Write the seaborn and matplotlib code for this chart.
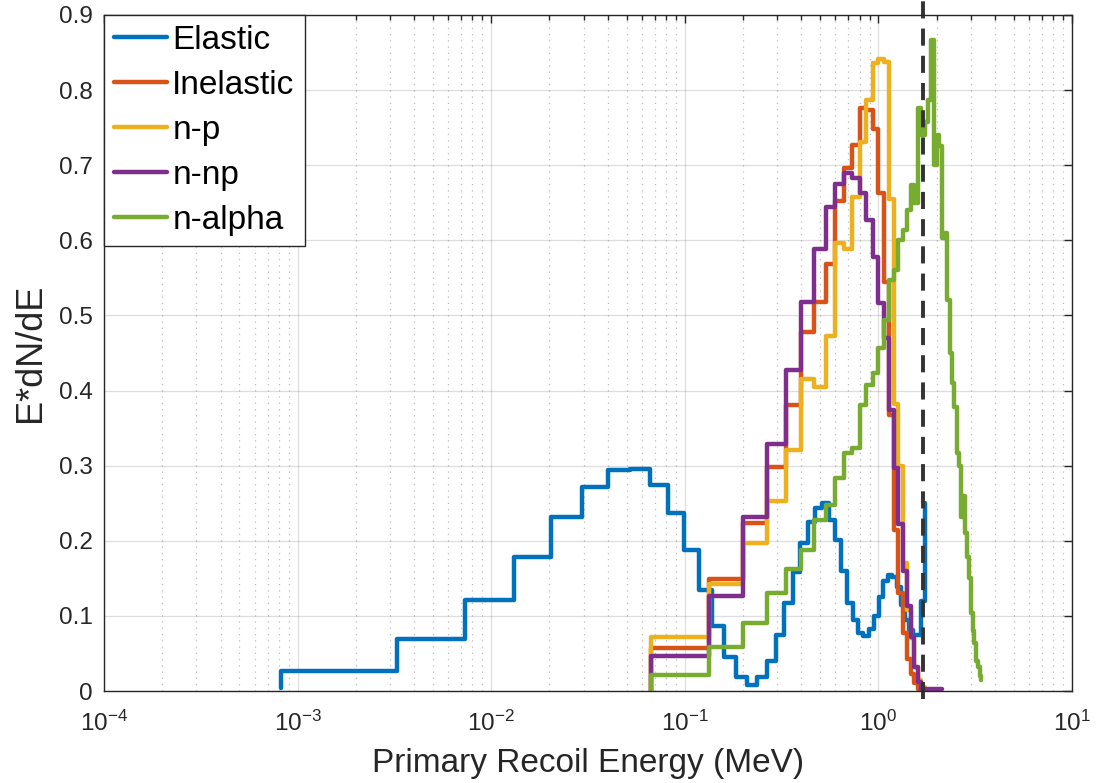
import matplotlib
matplotlib.use("Agg")
import matplotlib.pyplot as plt
from matplotlib.ticker import LogLocator, FixedLocator, FuncFormatter, NullFormatter
import seaborn as sns

# ─── Data ────────────────────────────────────────────────────────────────────
# Elastic histogram: bin edges (MeV) and the value that starts at each edge;
# the last value is only the end point of the stairs.
ELASTIC_E = [0.000818, 0.003272, 0.007362, 0.01309, 0.02045, 0.02945, 0.04008,
             0.05235, 0.06626, 0.08180, 0.09897, 0.1178, 0.1382, 0.1603,
             0.1840, 0.2094, 0.2364, 0.2650, 0.2953, 0.3272, 0.3607, 0.3959,
             0.4327, 0.4711, 0.5112, 0.5529, 0.5963, 0.6413, 0.6879, 0.7362,
             0.7861, 0.8376, 0.8908, 0.9456, 1.0020, 1.0601, 1.1198, 1.1811,
             1.2441, 1.3087, 1.3750, 1.4429, 1.5124, 1.5836, 1.6564, 1.7308]
ELASTIC_V = [0.027, 0.069, 0.121, 0.179, 0.232, 0.272, 0.294, 0.295, 0.274, 0.237,
             0.188, 0.134, 0.086, 0.045, 0.018, 0.008, 0.018, 0.040, 0.075, 0.117,
             0.158, 0.197, 0.225, 0.243, 0.250, 0.228, 0.201, 0.160, 0.117, 0.095,
             0.077, 0.073, 0.083, 0.100, 0.125, 0.146, 0.155, 0.152, 0.138, 0.115,
             0.095, 0.081, 0.075, 0.075, 0.120, 0.250]

# the reaction channels share the same bin edges (MeV)
BIN_E = [0.0667, 0.1333, 0.2000, 0.2667, 0.3333, 0.4000, 0.4667, 0.5333, 0.6000,
         0.6667, 0.7333, 0.8000, 0.8667, 0.9333, 1.0000, 1.0667, 1.1333, 1.2000,
         1.2667, 1.3333, 1.4000, 1.4667, 1.5333, 1.6000, 1.6667, 1.7333, 1.8000,
         1.8667, 1.9333, 2.0000, 2.0667, 2.1333, 2.2000, 2.2667, 2.3333, 2.4000,
         2.4667, 2.5333, 2.6000, 2.6667, 2.7333, 2.8000, 2.8667, 2.9333, 3.0000,
         3.0667, 3.1333, 3.2000, 3.2667, 3.3333, 3.4000]
INELASTIC_V = [0.057, 0.149, 0.224, 0.298, 0.381, 0.478, 0.518, 0.569, 0.652, 0.696,
               0.727, 0.776, 0.774, 0.748, 0.663, 0.545, 0.367, 0.214, 0.130, 0.077,
               0.043, 0.022, 0.010, 0.003, 0.0]
NP_V = [0.072, 0.142, 0.197, 0.253, 0.321, 0.416, 0.405, 0.473, 0.596, 0.589,
        0.658, 0.731, 0.787, 0.836, 0.841, 0.837, 0.655, 0.382, 0.299, 0.170,
        0.108, 0.070, 0.032, 0.015, 0.005, 0.0]
NNP_V = [0.047, 0.126, 0.231, 0.329, 0.427, 0.518, 0.589, 0.644, 0.675, 0.689,
         0.683, 0.663, 0.627, 0.578, 0.517, 0.470, 0.374, 0.297, 0.222, 0.160,
         0.113, 0.072, 0.032, 0.012, 0.003, 0.002, 0.002, 0.002, 0.002, 0.002,
         0.002, 0.002]
NALPHA_V = [0.021, 0.058, 0.090, 0.130, 0.163, 0.188, 0.228, 0.248, 0.283, 0.317,
            0.323, 0.381, 0.407, 0.423, 0.456, 0.494, 0.547, 0.561, 0.600, 0.614,
            0.640, 0.674, 0.650, 0.776, 0.740, 0.758, 0.787, 0.867, 0.700, 0.740,
            0.725, 0.603, 0.610, 0.520, 0.450, 0.410, 0.378, 0.317, 0.300, 0.232,
            0.260, 0.210, 0.179, 0.150, 0.104, 0.080, 0.064, 0.040, 0.032, 0.020,
            0.015]

THRESHOLD_E = 1.7
Y_TICKS = [0, 0.1, 0.2, 0.3, 0.4, 0.5, 0.6, 0.7, 0.8, 0.9]

# ─── Styling ─────────────────────────────────────────────────────────────────
sns.set_theme(style="white")
plt.rcParams['font.family'] = ['Liberation Sans', 'DejaVu Sans']
AX_COLOR = '#262626'
COLORS = ['#0072BD', '#D95319', '#EDB120', '#7E2F8E', '#77AC30']
LINE_W = 3.2


def stair_points(edges, values, start):
    # MATLAB-like stairs: begin with a vertical from `start` at the first edge
    n = len(values)
    x = [edges[0]] + list(edges[:n])
    y = [start] + list(values)
    return x, y


def main():
    fig = plt.figure(figsize=(11.09, 7.83), dpi=100)
    ax = fig.add_axes([104 / 1109, 92 / 783, 968 / 1109, 676 / 783])
    ax.set_xscale('log')

    series = [
        ('Elastic', ELASTIC_E, ELASTIC_V, 0.004),
        ('Inelastic', BIN_E, INELASTIC_V, 0.0),
        ('n-p', BIN_E, NP_V, 0.0),
        ('n-np', BIN_E, NNP_V, 0.0),
        ('n-alpha', BIN_E, NALPHA_V, 0.0),
    ]
    for (name, edges, vals, start), color in zip(series, COLORS):
        x, y = stair_points(edges, vals, start)
        sns.lineplot(x=x, y=y, ax=ax, color=color, lw=LINE_W, label=name,
                     drawstyle='steps-post', estimator=None, sort=False)

    ax.axvline(THRESHOLD_E, ymin=-0.012, ymax=1.03, color='#333333', lw=2.8,
               dashes=(4.4, 2.6), clip_on=False)

    ax.set_xlim(1e-4, 10)
    ax.set_ylim(0, 0.9)

    # ticks and grid, MATLAB look
    ax.xaxis.set_major_locator(LogLocator(base=10, numticks=10))
    ax.xaxis.set_minor_locator(LogLocator(base=10, subs=range(2, 10), numticks=100))
    ax.xaxis.set_minor_formatter(NullFormatter())
    ax.yaxis.set_major_locator(FixedLocator(Y_TICKS))
    ax.yaxis.set_major_formatter(FuncFormatter(lambda v, _: f"{v:g}"))
    ax.tick_params(which='both', direction='in', top=True, right=True,
                   colors=AX_COLOR, labelsize=17.5, width=1.0)
    ax.tick_params(which='major', length=6)
    ax.tick_params(which='minor', length=3.5)
    ax.tick_params(axis='x', which='major', pad=14)
    ax.tick_params(axis='y', which='major', pad=8)
    ax.tick_params(axis='y', which='minor', left=False, right=False)

    ax.grid(True, which='major', color=AX_COLOR, alpha=0.15, lw=0.9)
    ax.grid(True, which='minor', axis='x', color=AX_COLOR, alpha=0.3, lw=0.9,
            linestyle=(0, (1, 4)))
    ax.set_axisbelow(True)

    for sp in ax.spines.values():
        sp.set_visible(True)
        sp.set_color(AX_COLOR)
        sp.set_linewidth(1.0)

    ax.set_xlabel('Primary Recoil Energy (MeV)', fontsize=24, color=AX_COLOR, labelpad=9)
    ax.set_ylabel('E*dN/dE', fontsize=26, color=AX_COLOR, labelpad=8)

    leg = ax.legend(loc='upper left', bbox_to_anchor=(0, 1), borderaxespad=0,
                    fontsize=24, frameon=True, fancybox=False, framealpha=1,
                    handlelength=1.6, handletextpad=0.15, borderpad=0.3,
                    labelspacing=0.42)
    leg.get_frame().set_edgecolor(AX_COLOR)
    leg.get_frame().set_linewidth(1.0)
    for t in leg.get_texts():
        t.set_color('black')

    fig.savefig('out.png', dpi=100)
    plt.close(fig)


if __name__ == "__main__":
    main()
